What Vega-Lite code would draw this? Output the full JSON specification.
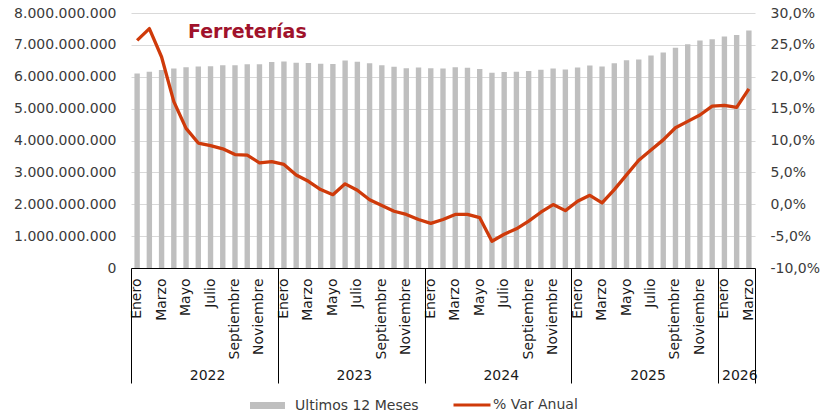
{
  "$schema": "https://vega.github.io/schema/vega-lite/v6.json",
  "width": 624,
  "height": 255,
  "autosize": {"type": "none"},
  "padding": {"left": 131, "top": 13, "right": 66, "bottom": 145},
  "background": "#ffffff",
  "config": {
    "view": {"stroke": null},
    "locale": {"number": {"decimal": ",", "thousands": ".", "grouping": [3], "currency": ["$", ""], "minus": "-"}},
    "axis": {"labelFont": "DejaVu Sans", "labelFontSize": 14, "labelColor": "#3b3b3b"},
    "legend": {"labelFont": "DejaVu Sans", "labelFontSize": 14, "labelColor": "#3b3b3b"}
  },
  "title": {
    "text": "Ferreterías",
    "anchor": "start",
    "frame": "group",
    "dx": 57,
    "offset": -36,
    "font": "DejaVu Sans",
    "fontSize": 19,
    "fontWeight": "bold",
    "color": "#a0122b"
  },
  "data": {"values": [
    {"mes": "2022-01", "total": 6100000000, "var": 0.257},
    {"mes": "2022-02", "total": 6160000000, "var": 0.2755},
    {"mes": "2022-03", "total": 6210000000, "var": 0.231},
    {"mes": "2022-04", "total": 6260000000, "var": 0.161},
    {"mes": "2022-05", "total": 6300000000, "var": 0.119},
    {"mes": "2022-06", "total": 6320000000, "var": 0.096},
    {"mes": "2022-07", "total": 6330000000, "var": 0.092},
    {"mes": "2022-08", "total": 6360000000, "var": 0.087},
    {"mes": "2022-09", "total": 6360000000, "var": 0.078},
    {"mes": "2022-10", "total": 6390000000, "var": 0.077},
    {"mes": "2022-11", "total": 6390000000, "var": 0.065},
    {"mes": "2022-12", "total": 6460000000, "var": 0.067},
    {"mes": "2023-01", "total": 6480000000, "var": 0.0625},
    {"mes": "2023-02", "total": 6440000000, "var": 0.046},
    {"mes": "2023-03", "total": 6430000000, "var": 0.036},
    {"mes": "2023-04", "total": 6410000000, "var": 0.023},
    {"mes": "2023-05", "total": 6400000000, "var": 0.015},
    {"mes": "2023-06", "total": 6510000000, "var": 0.032},
    {"mes": "2023-07", "total": 6470000000, "var": 0.022},
    {"mes": "2023-08", "total": 6420000000, "var": 0.007},
    {"mes": "2023-09", "total": 6360000000, "var": -0.002},
    {"mes": "2023-10", "total": 6310000000, "var": -0.011},
    {"mes": "2023-11", "total": 6270000000, "var": -0.016},
    {"mes": "2023-12", "total": 6290000000, "var": -0.024},
    {"mes": "2024-01", "total": 6270000000, "var": -0.030},
    {"mes": "2024-02", "total": 6260000000, "var": -0.024},
    {"mes": "2024-03", "total": 6300000000, "var": -0.016},
    {"mes": "2024-04", "total": 6280000000, "var": -0.016},
    {"mes": "2024-05", "total": 6240000000, "var": -0.021},
    {"mes": "2024-06", "total": 6125000000, "var": -0.058},
    {"mes": "2024-07", "total": 6150000000, "var": -0.047},
    {"mes": "2024-08", "total": 6160000000, "var": -0.0385},
    {"mes": "2024-09", "total": 6180000000, "var": -0.0265},
    {"mes": "2024-10", "total": 6220000000, "var": -0.0125},
    {"mes": "2024-11", "total": 6260000000, "var": -0.0005},
    {"mes": "2024-12", "total": 6230000000, "var": -0.010},
    {"mes": "2025-01", "total": 6290000000, "var": 0.0047},
    {"mes": "2025-02", "total": 6350000000, "var": 0.014},
    {"mes": "2025-03", "total": 6320000000, "var": 0.002},
    {"mes": "2025-04", "total": 6420000000, "var": 0.023},
    {"mes": "2025-05", "total": 6520000000, "var": 0.046},
    {"mes": "2025-06", "total": 6540000000, "var": 0.069},
    {"mes": "2025-07", "total": 6670000000, "var": 0.085},
    {"mes": "2025-08", "total": 6760000000, "var": 0.101},
    {"mes": "2025-09", "total": 6910000000, "var": 0.120},
    {"mes": "2025-10", "total": 7020000000, "var": 0.130},
    {"mes": "2025-11", "total": 7140000000, "var": 0.140},
    {"mes": "2025-12", "total": 7180000000, "var": 0.154},
    {"mes": "2026-01", "total": 7260000000, "var": 0.155},
    {"mes": "2026-02", "total": 7310000000, "var": 0.152},
    {"mes": "2026-03", "total": 7450000000, "var": 0.181}
  ]},
  "layer": [
    {
      "mark": {"type": "bar", "color": "#bfbfbf"},
      "encoding": {
        "x": {
          "field": "mes", "type": "ordinal",
          "scale": {"paddingInner": 0.56, "paddingOuter": 0.28},
          "axis": {
            "title": null,
            "orient": "bottom",
            "values": ["2022-01","2022-03","2022-05","2022-07","2022-09","2022-11","2023-01","2023-03","2023-05","2023-07","2023-09","2023-11","2024-01","2024-03","2024-05","2024-07","2024-09","2024-11","2025-01","2025-03","2025-05","2025-07","2025-09","2025-11","2026-01","2026-03"],
            "labelExpr": "['Enero','Febrero','Marzo','Abril','Mayo','Junio','Julio','Agosto','Septiembre','Octubre','Noviembre','Diciembre'][toNumber(substring(datum.value,5,7))-1]",
            "labelAngle": 270,
            "labelAlign": "right",
            "labelBaseline": "middle",
            "labelPadding": 10,
            "labelOverlap": false,
            "labelBound": false,
            "labelColor": "#1a1a1a",
            "ticks": false,
            "domain": true,
            "domainColor": "#000000",
            "domainWidth": 1,
            "grid": false
          }
        },
        "y": {
          "field": "total", "type": "quantitative",
          "scale": {"domain": [0, 8000000000], "nice": false},
          "axis": {
            "title": null,
            "orient": "left",
            "values": [0,1000000000,2000000000,3000000000,4000000000,5000000000,6000000000,7000000000,8000000000],
            "format": ",.0f",
            "grid": true,
            "gridColor": "#d9d9d9",
            "gridWidth": 1,
            "domain": false,
            "ticks": false,
            "labelPadding": 15
          }
        },
        "color": {
          "datum": "Ultimos 12 Meses",
          "scale": {"range": ["#bfbfbf"]},
          "legend": {
            "title": null,
            "orient": "none",
            "legendX": 119,
            "legendY": 375,
            "symbolType": "M-1,-0.2H1V0.2H-1Z",
            "symbolSize": 1225,
            "symbolStrokeWidth": 0,
            "labelOffset": 10
          }
        }
      }
    },
    {
      "mark": {"type": "line", "color": "#cf3a0a", "strokeWidth": 3.3, "strokeJoin": "round"},
      "encoding": {
        "x": {
          "field": "mes", "type": "ordinal",
          "axis": {
            "title": null,
            "orient": "bottom",
            "values": ["2022-01","2023-01","2024-01","2025-01","2026-01"],
            "bandPosition": 0,
            "tickOffset": -3.43,
            "tickSize": 115,
            "tickColor": "#000000",
            "tickWidth": 1,
            "domain": false,
            "grid": false,
            "labelExpr": "substring(datum.value,0,4)",
            "labelAngle": 0,
            "labelAlign": "center",
            "labelBaseline": "top",
            "labelPadding": -15,
            "labelOffset": {"condition": {"test": "datum.value == '2026-01'", "value": 18.3}, "value": 73.4},
            "labelColor": "#1a1a1a",
            "labelOverlap": false,
            "labelBound": false,
            "labelFlush": false
          }
        },
        "y": {
          "field": "var", "type": "quantitative",
          "scale": {"domain": [-0.1, 0.3], "nice": false},
          "axis": {
            "title": null,
            "orient": "right",
            "values": [-0.1,-0.05,0,0.05,0.1,0.15,0.2,0.25,0.3],
            "format": ".1%",
            "grid": false,
            "domain": false,
            "ticks": false,
            "labelPadding": 15
          }
        },
        "color": {
          "datum": "% Var Anual",
          "scale": {"range": ["#cf3a0a"]},
          "legend": {
            "title": null,
            "orient": "none",
            "legendX": 321,
            "legendY": 372,
            "symbolType": "stroke",
            "symbolSize": 1369,
            "symbolStrokeWidth": 3,
            "labelOffset": 1
          }
        }
      }
    },
    {
      "mark": {"type": "bar", "opacity": 0},
      "encoding": {
        "x": {
          "field": "mes", "type": "ordinal",
          "axis": {
            "title": null,
            "orient": "bottom",
            "values": ["2026-03"],
            "bandPosition": 1,
            "tickOffset": 3.43,
            "tickSize": 115,
            "tickColor": "#000000",
            "tickWidth": 1,
            "domain": false,
            "grid": false,
            "labels": false
          }
        },
        "y": {"field": "total", "type": "quantitative", "axis": null}
      }
    }
  ],
  "resolve": {
    "scale": {"y": "independent", "color": "independent"},
    "axis": {"x": "independent", "y": "independent"}
  }
}
